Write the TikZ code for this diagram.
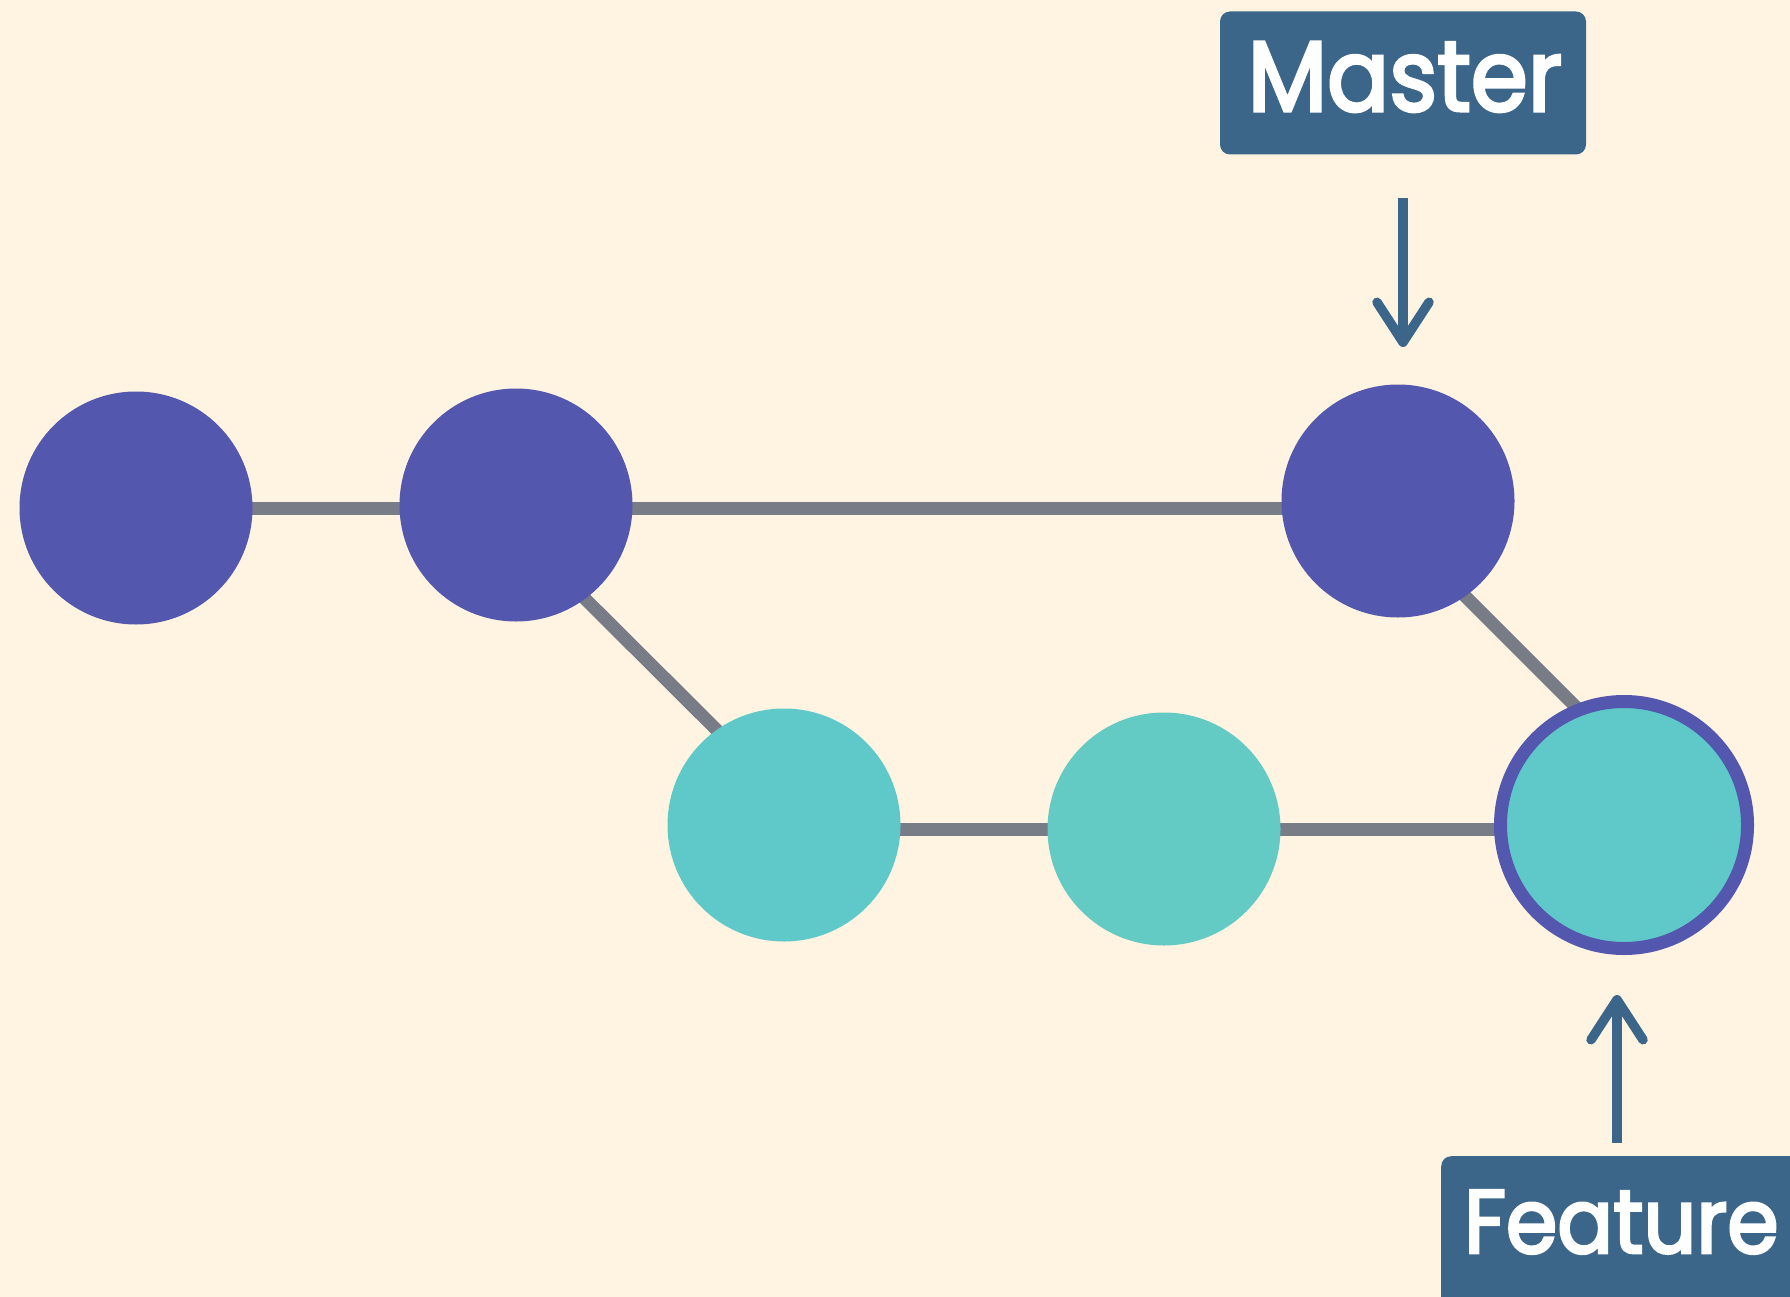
\documentclass[tikz,border=0pt]{standalone}
\usepackage{fontspec}
\setmainfont{Poppins}
\newfontfamily\labelfont{Poppins}[FakeStretch=0.92, FakeBold=3]
\usetikzlibrary{arrows.meta,calc}
\definecolor{bgc}{HTML}{FFF4E2}
\definecolor{purp}{HTML}{5457AE}
\definecolor{tealA}{HTML}{5FC9CA}
\definecolor{tealB}{HTML}{64CAC4}
\definecolor{linec}{HTML}{787C87}
\definecolor{boxc}{HTML}{3C6689}
\pgfdeclarelayer{bg}
\pgfdeclarelayer{lines}
\pgfsetlayers{bg,lines,main}
\tikzset{
  commit/.style={circle, inner sep=0pt, minimum size=233pt, draw=none},
  link/.style={draw=linec, line width=13pt},
  ptr/.style={draw=boxc, line width=9.5pt, -{Straight Barb[length=40pt,width=52pt,round]}},
  labelbox/.style={fill=boxc, rounded corners=10pt, inner sep=0pt},
  labeltext/.style={text=white, inner sep=0pt}
}
\begin{document}
\begin{tikzpicture}[x=1pt,y=-1pt]
\useasboundingbox (0,0) rectangle (1790,1297);
\begin{pgfonlayer}{bg}
  \fill[bgc] (0,0) rectangle (1790,1297);
\end{pgfonlayer}
% commits
\node[commit, fill=purp] (c1) at (136,508) {};
\node[commit, fill=purp] (c2) at (516,505) {};
\node[commit, fill=purp] (c3) at (1398,501) {};
\node[commit, fill=tealA] (c4) at (784,825) {};
\node[commit, fill=tealB] (c5) at (1164,829) {};
\node[commit, fill=tealA, draw=purp, line width=13pt, minimum size=247pt] (c6) at (1624,825) {};
% connectors
\begin{pgfonlayer}{lines}
  \draw[link] (c1.center |- 0,508) -- (c2.center |- 0,508);
  \draw[link] (c2.center |- 0,508) -- (c3.center |- 0,508);
  \draw[link] ($(c2)+(0,25)$) -- ($(c4)+(0,-28)$);
  \draw[link] (c4.center |- 0,829) -- (c5.center |- 0,829);
  \draw[link] (c5.center |- 0,829) -- (c6.center |- 0,829);
  \draw[link] ($(c3)+(0,28)$) -- ($(c3)+(187,215)$);
\end{pgfonlayer}
% Master label
\node[labelbox, minimum width=366pt, minimum height=143pt] (master) at (1403,83) {};
\node[labeltext, anchor=base, font=\labelfont\fontsize{100}{110}\selectfont] (mastertxt) at (1405,111) {Master};
\coordinate (ma1) at (1403,198);
\coordinate (ma2) at (1403,347);
\draw[ptr] (ma1) -- (ma2);
% Feature label
\begin{scope}
  \clip (0,0) rectangle (1790,1297);
  \node[labelbox, anchor=north west, minimum width=400pt, minimum height=170pt] (feature) at (1441,1156) {};
\end{scope}
\node[labeltext, anchor=base west, font=\labelfont\fontsize{90}{100}\selectfont] (featuretxt) at (1464,1253) {Feature};
\coordinate (fa1) at (1617,1143);
\coordinate (fa2) at (1617,995);
\draw[ptr] (fa1) -- (fa2);
\end{tikzpicture}
\end{document}
